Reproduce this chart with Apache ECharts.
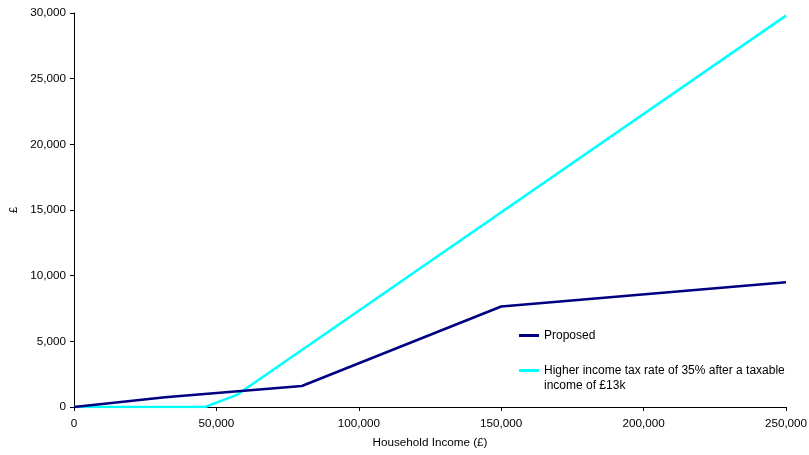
<!DOCTYPE html>
<html><head><meta charset="utf-8">
<script src="https://cdn.jsdelivr.net/npm/echarts@6/dist/echarts.min.js"></script>
<style>html,body{margin:0;padding:0;background:#fff}#c{width:809px;height:455px}</style>
</head><body><div id="c"></div>
<script>
const proposedX = [0, 32000, 80000, 150000, 250000];
const proposedY = [0, 750, 1600, 7650, 9500];
const higherX = [0, 46000, 57000, 250000];
const higherY = [0, 0, 900, 29800];
const seriesNames = ['Proposed', 'Higher income tax rate of 35% after a taxable income of £13k'];
const xTicks = [0, 50000, 100000, 150000, 200000, 250000];
const yTicks = [0, 5000, 10000, 15000, 20000, 25000, 30000];

const fmt = v => v.toLocaleString('en-GB');
const font = {fontFamily: 'Liberation Sans, Arial, sans-serif', fontSize: 11.7, color: '#000'};
const lfont = {fontFamily: 'Liberation Sans, Arial, sans-serif', fontSize: 12, color: '#000'};
const chart = echarts.init(document.getElementById('c'));
chart.setOption({
  animation: false,
  grid: {left: 74, right: 23, top: 13, bottom: 48, containLabel: false, outerBoundsMode: 'none'},
  xAxis: {
    type: 'value', min: xTicks[0], max: xTicks[xTicks.length-1], interval: 50000,
    name: 'Household Income (£)', nameLocation: 'middle', nameGap: 30,
    nameTextStyle: font,
    axisLine: {lineStyle: {color: '#000', width: 1}},
    axisTick: {show: true, length: 4, lineStyle: {color: '#000'}},
    axisLabel: Object.assign({formatter: fmt, margin: 11}, font),
    splitLine: {show: false}
  },
  yAxis: {
    type: 'value', min: yTicks[0], max: yTicks[yTicks.length-1], interval: 5000,
    name: '£', nameLocation: 'middle', nameGap: 45, nameRotate: 90,
    nameTextStyle: font,
    axisLine: {show: true, lineStyle: {color: '#000', width: 1}},
    axisTick: {show: true, length: 4, lineStyle: {color: '#000'}},
    axisLabel: Object.assign({formatter: fmt, margin: 8}, font),
    splitLine: {show: false}
  },
  legend: [{
    left: 519, top: 328, orient: 'vertical', padding: 0,
    data: [seriesNames[0]],
    icon: 'rect', itemWidth: 20, itemHeight: 3,
    textStyle: Object.assign({lineHeight: 15}, lfont)
  }, {
    left: 519, top: 348, orient: 'vertical', padding: 0,
    data: [seriesNames[1]],
    icon: 'rect', itemWidth: 20, itemHeight: 3,
    formatter: n => ' \nHigher income tax rate of 35% after a taxable\nincome of £13k',
    textStyle: Object.assign({lineHeight: 15}, lfont)
  }],
  series: [{
    name: seriesNames[0], type: 'line', showSymbol: false, symbol: 'none',
    data: proposedX.map((x, i) => [x, proposedY[i]]),
    lineStyle: {color: '#000080', width: 2.5}, itemStyle: {color: '#000080'}, z: 3
  }, {
    name: seriesNames[1], type: 'line', showSymbol: false, symbol: 'none',
    data: higherX.map((x, i) => [x, higherY[i]]),
    lineStyle: {color: '#00FFFF', width: 2.5}, itemStyle: {color: '#00FFFF'}, z: 2
  }]
});
</script></body></html>
